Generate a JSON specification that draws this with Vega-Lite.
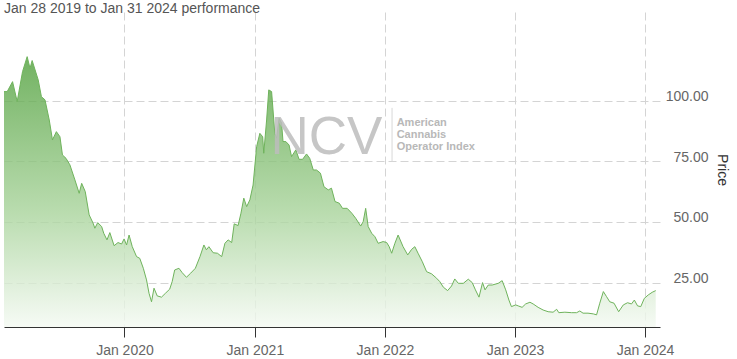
{
  "$schema": "https://vega.github.io/schema/vega-lite/v6.json",
  "width": 656,
  "height": 315,
  "autosize": "none",
  "padding": {"left": 4, "top": 12, "right": 77, "bottom": 32},
  "background": "white",
  "config": {"view": {"stroke": null}, "font": "Liberation Sans"},
  "data": {"values": [
    {"date": "2019-01-28", "price": 103.7},
    {"date": "2019-02-06", "price": 103.7},
    {"date": "2019-02-21", "price": 107.8},
    {"date": "2019-03-06", "price": 99.6},
    {"date": "2019-03-21", "price": 111.9},
    {"date": "2019-04-03", "price": 118.1},
    {"date": "2019-04-11", "price": 113.3},
    {"date": "2019-04-17", "price": 116.5},
    {"date": "2019-05-04", "price": 108.5},
    {"date": "2019-05-13", "price": 101.6},
    {"date": "2019-05-23", "price": 100.3},
    {"date": "2019-06-04", "price": 92.0},
    {"date": "2019-06-13", "price": 83.8},
    {"date": "2019-06-24", "price": 87.2},
    {"date": "2019-07-04", "price": 85.1},
    {"date": "2019-07-11", "price": 77.6},
    {"date": "2019-07-21", "price": 76.2},
    {"date": "2019-08-01", "price": 73.5},
    {"date": "2019-08-15", "price": 67.3},
    {"date": "2019-08-27", "price": 61.8},
    {"date": "2019-09-03", "price": 65.9},
    {"date": "2019-09-13", "price": 62.5},
    {"date": "2019-09-24", "price": 52.9},
    {"date": "2019-10-05", "price": 49.5},
    {"date": "2019-10-10", "price": 47.4},
    {"date": "2019-10-18", "price": 49.7},
    {"date": "2019-10-29", "price": 48.1},
    {"date": "2019-11-04", "price": 45.3},
    {"date": "2019-11-13", "price": 42.6},
    {"date": "2019-11-21", "price": 45.6},
    {"date": "2019-12-03", "price": 40.2},
    {"date": "2019-12-14", "price": 41.5},
    {"date": "2019-12-24", "price": 40.9},
    {"date": "2019-12-31", "price": 43.0},
    {"date": "2020-01-07", "price": 40.5},
    {"date": "2020-01-14", "price": 44.6},
    {"date": "2020-01-23", "price": 39.8},
    {"date": "2020-02-04", "price": 35.7},
    {"date": "2020-02-13", "price": 35.0},
    {"date": "2020-02-23", "price": 30.9},
    {"date": "2020-03-03", "price": 26.1},
    {"date": "2020-03-10", "price": 20.6},
    {"date": "2020-03-17", "price": 17.1},
    {"date": "2020-03-24", "price": 22.7},
    {"date": "2020-04-02", "price": 19.5},
    {"date": "2020-04-14", "price": 19.0},
    {"date": "2020-04-25", "price": 20.6},
    {"date": "2020-05-07", "price": 22.3},
    {"date": "2020-05-14", "price": 25.4},
    {"date": "2020-05-21", "price": 30.2},
    {"date": "2020-06-02", "price": 30.9},
    {"date": "2020-06-11", "price": 29.1},
    {"date": "2020-06-23", "price": 27.2},
    {"date": "2020-07-05", "price": 28.9},
    {"date": "2020-07-18", "price": 30.9},
    {"date": "2020-07-31", "price": 35.7},
    {"date": "2020-08-11", "price": 40.5},
    {"date": "2020-08-18", "price": 38.5},
    {"date": "2020-08-25", "price": 39.8},
    {"date": "2020-09-06", "price": 37.3},
    {"date": "2020-09-18", "price": 37.1},
    {"date": "2020-09-30", "price": 35.7},
    {"date": "2020-10-09", "price": 41.2},
    {"date": "2020-10-18", "price": 42.6},
    {"date": "2020-10-28", "price": 41.5},
    {"date": "2020-11-04", "price": 49.2},
    {"date": "2020-11-15", "price": 48.5},
    {"date": "2020-11-23", "price": 53.6},
    {"date": "2020-12-01", "price": 59.8},
    {"date": "2020-12-09", "price": 56.3},
    {"date": "2020-12-18", "price": 59.1},
    {"date": "2020-12-27", "price": 65.2},
    {"date": "2021-01-06", "price": 81.0},
    {"date": "2021-01-15", "price": 86.5},
    {"date": "2021-01-23", "price": 85.1},
    {"date": "2021-01-26", "price": 78.3},
    {"date": "2021-02-03", "price": 92.0},
    {"date": "2021-02-09", "price": 104.4},
    {"date": "2021-02-17", "price": 103.7},
    {"date": "2021-02-26", "price": 86.5},
    {"date": "2021-03-03", "price": 84.5},
    {"date": "2021-03-10", "price": 92.7},
    {"date": "2021-03-17", "price": 90.7},
    {"date": "2021-03-21", "price": 83.1},
    {"date": "2021-03-29", "price": 83.1},
    {"date": "2021-04-07", "price": 81.7},
    {"date": "2021-04-14", "price": 76.9},
    {"date": "2021-04-26", "price": 79.7},
    {"date": "2021-05-05", "price": 75.8},
    {"date": "2021-05-15", "price": 75.8},
    {"date": "2021-05-26", "price": 78.0},
    {"date": "2021-06-04", "price": 76.2},
    {"date": "2021-06-14", "price": 71.4},
    {"date": "2021-06-23", "price": 71.4},
    {"date": "2021-07-04", "price": 70.1},
    {"date": "2021-07-14", "price": 64.5},
    {"date": "2021-07-26", "price": 63.2},
    {"date": "2021-08-04", "price": 63.9},
    {"date": "2021-08-14", "price": 58.4},
    {"date": "2021-08-26", "price": 57.7},
    {"date": "2021-09-04", "price": 55.6},
    {"date": "2021-09-17", "price": 55.6},
    {"date": "2021-09-30", "price": 53.6},
    {"date": "2021-10-11", "price": 51.5},
    {"date": "2021-10-25", "price": 48.3},
    {"date": "2021-11-01", "price": 50.1},
    {"date": "2021-11-08", "price": 55.6},
    {"date": "2021-11-15", "price": 48.1},
    {"date": "2021-11-25", "price": 45.3},
    {"date": "2021-12-04", "price": 43.9},
    {"date": "2021-12-13", "price": 41.2},
    {"date": "2021-12-27", "price": 41.9},
    {"date": "2022-01-06", "price": 41.5},
    {"date": "2022-01-13", "price": 39.8},
    {"date": "2022-01-20", "price": 37.1},
    {"date": "2022-01-29", "price": 41.2},
    {"date": "2022-02-07", "price": 44.6},
    {"date": "2022-02-21", "price": 39.8},
    {"date": "2022-03-06", "price": 36.4},
    {"date": "2022-03-17", "price": 38.7},
    {"date": "2022-03-26", "price": 39.8},
    {"date": "2022-04-04", "price": 37.1},
    {"date": "2022-04-16", "price": 33.6},
    {"date": "2022-04-28", "price": 29.5},
    {"date": "2022-05-12", "price": 28.6},
    {"date": "2022-05-26", "price": 26.8},
    {"date": "2022-06-04", "price": 25.4},
    {"date": "2022-06-14", "price": 23.1},
    {"date": "2022-06-26", "price": 21.7},
    {"date": "2022-07-07", "price": 23.6},
    {"date": "2022-07-16", "price": 26.5},
    {"date": "2022-07-26", "price": 24.7},
    {"date": "2022-08-09", "price": 24.7},
    {"date": "2022-08-23", "price": 26.4},
    {"date": "2022-09-03", "price": 25.0},
    {"date": "2022-09-12", "price": 22.0},
    {"date": "2022-09-22", "price": 19.0},
    {"date": "2022-10-02", "price": 25.0},
    {"date": "2022-10-09", "price": 22.0},
    {"date": "2022-10-18", "price": 24.0},
    {"date": "2022-10-29", "price": 24.0},
    {"date": "2022-11-15", "price": 24.7},
    {"date": "2022-11-26", "price": 25.8},
    {"date": "2022-12-06", "price": 22.0},
    {"date": "2022-12-15", "price": 17.8},
    {"date": "2022-12-22", "price": 15.1},
    {"date": "2023-01-03", "price": 15.8},
    {"date": "2023-01-10", "price": 15.4},
    {"date": "2023-01-21", "price": 14.8},
    {"date": "2023-01-31", "price": 16.2},
    {"date": "2023-02-12", "price": 16.9},
    {"date": "2023-02-21", "price": 16.2},
    {"date": "2023-03-07", "price": 14.8},
    {"date": "2023-03-21", "price": 13.7},
    {"date": "2023-04-04", "price": 13.0},
    {"date": "2023-04-18", "price": 12.8},
    {"date": "2023-04-28", "price": 14.0},
    {"date": "2023-05-04", "price": 12.6},
    {"date": "2023-05-21", "price": 12.8},
    {"date": "2023-06-09", "price": 12.6},
    {"date": "2023-06-23", "price": 12.6},
    {"date": "2023-07-02", "price": 13.3},
    {"date": "2023-07-11", "price": 12.4},
    {"date": "2023-07-25", "price": 12.4},
    {"date": "2023-08-09", "price": 12.1},
    {"date": "2023-08-18", "price": 11.7},
    {"date": "2023-08-27", "price": 16.5},
    {"date": "2023-09-06", "price": 21.3},
    {"date": "2023-09-15", "price": 19.2},
    {"date": "2023-09-24", "price": 17.1},
    {"date": "2023-10-06", "price": 16.5},
    {"date": "2023-10-19", "price": 13.0},
    {"date": "2023-11-01", "price": 15.8},
    {"date": "2023-11-13", "price": 16.7},
    {"date": "2023-11-24", "price": 16.2},
    {"date": "2023-12-02", "price": 17.8},
    {"date": "2023-12-11", "price": 15.4},
    {"date": "2023-12-20", "price": 15.1},
    {"date": "2023-12-30", "price": 18.5},
    {"date": "2024-01-10", "price": 19.9},
    {"date": "2024-01-21", "price": 21.0},
    {"date": "2024-01-31", "price": 21.7}
  ]},
  "encoding": {
    "x": {
      "field": "date", "type": "temporal",
      "scale": {"domain": [{"year": 2019, "month": 1, "date": 28, "utc": true}, {"year": 2024, "month": 2, "date": 12, "utc": true}], "nice": false},
      "axis": {
        "title": null, "format": "%b %Y", "tickCount": {"interval": "year", "step": 1},
        "grid": true, "gridDash": [8, 4], "gridColor": "#d4d4d4", "gridWidth": 1,
        "domainColor": "#333333", "domainWidth": 1, "tickColor": "#333333", "tickSize": 10, "tickWidth": 1,
        "labelFont": "Liberation Sans", "labelFontSize": 14, "labelColor": "#666666", "labelPadding": 6, "labelFlush": false
      }
    },
    "y": {
      "field": "price", "type": "quantitative",
      "scale": {"domain": [6.7, 136.5], "nice": false, "zero": false},
      "axis": {
        "orient": "right", "title": "Price", "values": [25, 50, 75, 100], "format": ".2f",
        "grid": true, "gridDash": [8, 4], "gridColor": "#d4d4d4", "gridWidth": 1,
        "domain": false, "ticks": false, "tickSize": 0,
        "labelFont": "Liberation Sans", "labelFontSize": 14, "labelColor": "#666666", "labelAlign": "right", "labelBaseline": "alphabetic", "labelPadding": 48,
        "titleFont": "Liberation Sans", "titleFontSize": 14, "titleFontWeight": "normal", "titleColor": "#333333", "titlePadding": 6
      }
    }
  },
  "layer": [
    {
      "mark": {"type": "area", "clip": true, "opacity": 0.8,
        "color": {"gradient": "linear", "x1": 0, "y1": 0, "x2": 0, "y2": 1,
          "stops": [{"offset": 0, "color": "#4f9f3a"}, {"offset": 0.55, "color": "#a9d49c"}, {"offset": 1, "color": "#ffffff"}]}}
    },
    {
      "mark": {"type": "line", "clip": true, "color": "#6fb35c", "strokeWidth": 1}
    },
    {
      "transform": [{"filter": {"field": "price", "equal": 118.1}}],
      "mark": {"type": "text", "text": "NCV", "font": "Liberation Sans", "fontSize": 53, "align": "left", "baseline": "alphabetic", "color": "#bdbdbd", "opacity": 0.85},
      "encoding": {
        "x": {"datum": {"year": 2021, "month": 2, "date": 14, "utc": true}, "type": "temporal"},
        "y": {"datum": 78.0, "type": "quantitative"}
      }
    },
    {
      "transform": [{"filter": {"field": "price", "equal": 118.1}}],
      "mark": {"type": "rule", "color": "#d8d8d8", "strokeWidth": 1},
      "encoding": {
        "x": {"datum": {"year": 2022, "month": 1, "date": 21, "utc": true}, "type": "temporal"},
        "y": {"datum": 97, "type": "quantitative"},
        "y2": {"datum": 75}
      }
    },
    {
      "transform": [{"filter": {"field": "price", "equal": 118.1}}],
      "mark": {"type": "text", "text": "American", "font": "Liberation Sans", "fontSize": 11, "fontWeight": "bold", "align": "left", "baseline": "alphabetic", "color": "#b8b8b8"},
      "encoding": {
        "x": {"datum": {"year": 2022, "month": 2, "date": 3, "utc": true}, "type": "temporal"},
        "y": {"datum": 89.5, "type": "quantitative"}
      }
    },
    {
      "transform": [{"filter": {"field": "price", "equal": 118.1}}],
      "mark": {"type": "text", "text": "Cannabis", "font": "Liberation Sans", "fontSize": 11, "fontWeight": "bold", "align": "left", "baseline": "alphabetic", "color": "#b8b8b8"},
      "encoding": {
        "x": {"datum": {"year": 2022, "month": 2, "date": 3, "utc": true}, "type": "temporal"},
        "y": {"datum": 84.5, "type": "quantitative"}
      }
    },
    {
      "transform": [{"filter": {"field": "price", "equal": 118.1}}],
      "mark": {"type": "text", "text": "Operator Index", "font": "Liberation Sans", "fontSize": 11, "fontWeight": "bold", "align": "left", "baseline": "alphabetic", "color": "#b8b8b8"},
      "encoding": {
        "x": {"datum": {"year": 2022, "month": 2, "date": 3, "utc": true}, "type": "temporal"},
        "y": {"datum": 79.5, "type": "quantitative"}
      }
    },
    {
      "transform": [{"filter": {"field": "price", "equal": 118.1}}],
      "mark": {"type": "text", "text": "Jan 28 2019 to Jan 31 2024 performance", "font": "Liberation Sans", "fontSize": 14, "fontWeight": "normal", "align": "left", "baseline": "alphabetic", "color": "#555555", "clip": false},
      "encoding": {
        "x": {"datum": {"year": 2019, "month": 1, "date": 28, "utc": true}, "type": "temporal"},
        "y": {"datum": 136.2, "type": "quantitative"}
      }
    }
  ]
}
